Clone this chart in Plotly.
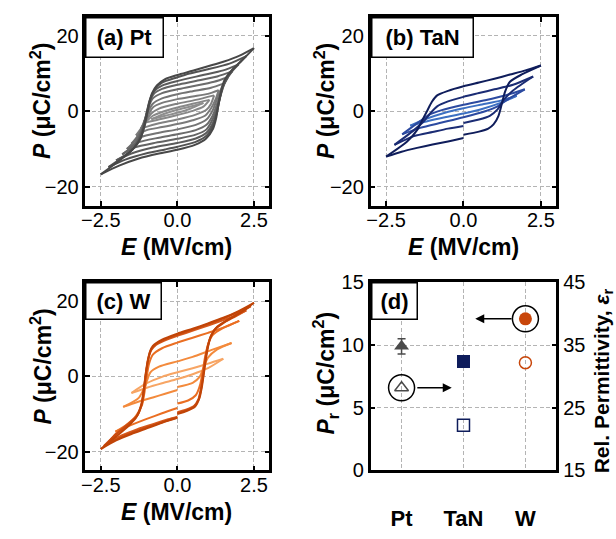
import plotly.graph_objects as go

FONT = "Liberation Sans, Arial, sans-serif"

# ---------------- (a) Pt : P-E loops, field sweep from small to large ----------------
pt1_up_E = [0.85, 0.4, 0.0, -0.4, -0.85]
pt1_up_P = [2.2, 1.2, 0.4, -0.6, -2.1]
pt1_lo_E = [-0.85, -0.4, 0.0, 0.4, 0.85]
pt1_lo_P = [-2.1, -1.2, -0.4, 0.6, 2.2]

pt2_up_E = [1.05, 0.5, 0.0, -0.5, -0.8, -1.05]
pt2_up_P = [3.0, 2.0, 1.0, -0.2, -1.2, -3.0]
pt2_lo_E = [-1.05, -0.5, 0.0, 0.5, 0.85, 1.05]
pt2_lo_P = [-3.0, -2.0, -1.0, 0.1, 1.2, 3.0]

pt3_up_E = [1.2, 0.6, 0.0, -0.6, -0.85, -1.0, -1.2]
pt3_up_P = [4.2, 3.0, 2.0, 0.7, -0.6, -2.3, -4.6]
pt3_lo_E = [-1.2, -0.6, 0.0, 0.6, 0.95, 1.1, 1.2]
pt3_lo_P = [-4.6, -3.2, -2.2, -0.9, 0.4, 2.0, 4.2]

pt4_up_E = [1.35, 1.0, 0.5, 0.0, -0.5, -0.8, -0.95, -1.1, -1.35]
pt4_up_P = [5.6, 4.6, 3.9, 3.2, 2.2, 1.0, -1.0, -3.5, -6.4]
pt4_lo_E = [-1.35, -1.0, -0.5, 0.0, 0.5, 0.9, 1.1, 1.25, 1.35]
pt4_lo_P = [-6.4, -5.0, -4.2, -3.4, -2.4, -1.2, 0.8, 3.2, 5.6]

pt5_up_E = [1.5, 1.1, 0.5, 0.0, -0.5, -0.8, -0.95, -1.1, -1.25, -1.5]
pt5_up_P = [7.3, 6.2, 5.3, 4.5, 3.4, 2.0, 0.0, -3.0, -6.0, -8.6]
pt5_lo_E = [-1.5, -1.2, -0.6, 0.0, 0.6, 0.95, 1.15, 1.3, 1.5]
pt5_lo_P = [-8.6, -6.9, -5.7, -4.8, -3.6, -2.2, 0.2, 3.4, 7.3]

pt6_up_E = [1.65, 1.2, 0.5, 0.0, -0.5, -0.8, -0.93, -1.05, -1.2, -1.4, -1.65]
pt6_up_P = [9.0, 7.8, 6.6, 5.8, 4.8, 3.4, 1.3, -2.0, -5.5, -8.0, -10.0]
pt6_lo_E = [-1.65, -1.3, -0.6, 0.0, 0.6, 0.95, 1.15, 1.3, 1.45, 1.65]
pt6_lo_P = [-10.0, -8.3, -7.0, -6.1, -5.0, -3.6, -1.2, 2.0, 6.0, 9.0]

pt7_up_E = [1.8, 1.3, 0.6, 0.0, -0.5, -0.78, -0.92, -1.03, -1.15, -1.35, -1.6, -1.8]
pt7_up_P = [10.6, 9.2, 8.0, 7.0, 5.9, 4.5, 2.0, -1.5, -5.0, -8.3, -10.2, -11.4]
pt7_lo_E = [-1.8, -1.4, -0.7, 0.0, 0.6, 0.95, 1.15, 1.3, 1.45, 1.6, 1.8]
pt7_lo_P = [-11.4, -9.6, -8.3, -7.3, -6.2, -4.8, -2.2, 1.0, 5.5, 8.5, 10.6]

pt8_up_E = [2.0, 1.5, 0.8, 0.0, -0.5, -0.75, -0.9, -1.0, -1.12, -1.3, -1.55, -2.0]
pt8_up_P = [12.4, 10.8, 9.5, 8.0, 6.8, 5.4, 3.0, -0.2, -4.3, -8.2, -10.8, -13.0]
pt8_lo_E = [-2.0, -1.5, -0.8, 0.0, 0.6, 0.95, 1.15, 1.28, 1.4, 1.55, 1.75, 2.0]
pt8_lo_P = [-13.0, -11.2, -9.6, -8.4, -7.2, -5.7, -3.3, -0.5, 3.8, 7.5, 10.2, 12.4]

pt9_up_E = [2.25, 1.7, 1.0, 0.4, 0.0, -0.5, -0.72, -0.87, -0.97, -1.07, -1.25, -1.5, -2.25]
pt9_up_P = [14.6, 12.6, 11.1, 10.0, 9.0, 7.6, 6.0, 3.5, 0.0, -4.0, -7.8, -10.4, -14.8]
pt9_lo_E = [-2.25, -1.7, -1.0, -0.4, 0.0, 0.6, 0.95, 1.15, 1.27, 1.37, 1.5, 1.75, 2.25]
pt9_lo_P = [-14.8, -12.8, -11.1, -10.1, -9.4, -8.1, -6.5, -4.0, -1.0, 3.0, 7.2, 10.5, 14.6]

pt10_up_E = [2.5, 2.05, 1.5, 1.0, 0.5, 0.0, -0.4, -0.67, -0.83, -0.92, -1.0, -1.08, -1.2, -1.47, -1.9, -2.5]
pt10_up_P = [16.7, 14.8, 13.1, 11.9, 10.7, 9.6, 8.5, 6.8, 4.7, 2.1, -0.8, -3.8, -7.2, -10.2, -13.1, -16.7]
pt10_lo_E = [-2.5, -1.9, -1.26, -0.6, 0.0, 0.57, 0.94, 1.16, 1.27, 1.34, 1.43, 1.53, 1.75, 2.07, 2.5]
pt10_lo_P = [-16.7, -14.4, -12.5, -11.2, -10.2, -8.9, -7.2, -4.7, -1.7, 1.7, 5.1, 8.1, 10.6, 13.1, 16.7]

pt_colors = ["#8e8e8e", "#888888", "#828282", "#7b7b7b", "#747474",
             "#6c6c6c", "#646464", "#5b5b5b", "#525252", "#484848"]

# ---------------- (b) TaN : P-E loops (None = restart of the sweep at E = 0) ----------------
tan1_up_E = [1.72, 1.2, 0.6, 0.0, -0.6, -1.2, -1.72]
tan1_up_P = [4.1, 2.8, 1.8, 0.8, -0.4, -2.0, -3.8]
tan1_lo_E = [-1.72, -1.2, -0.6, 0.0, 0.6, 1.2, 1.72]
tan1_lo_P = [-3.8, -2.7, -1.6, -0.6, 0.6, 2.2, 4.1]

tan2_up_E = [1.98, 1.4, 0.7, 0.0, -0.7, -1.1, -1.4, -1.98]
tan2_up_P = [5.8, 4.3, 2.9, 1.7, 0.3, -0.9, -2.6, -6.1]
tan2_lo_E = [-1.98, -1.4, -0.7, 0.0, 0.7, 1.1, 1.4, 1.98]
tan2_lo_P = [-6.1, -4.4, -3.0, -1.6, 0.0, 1.3, 3.0, 5.8]

tan3_up_E = [2.25, 1.6, 1.0, 0.5, 0.0, -0.5, -0.85, -1.1, -1.3, -1.6, -2.23]
tan3_up_P = [9.2, 7.0, 5.8, 4.8, 3.8, 2.6, 1.3, -0.8, -2.8, -5.0, -8.9]
tan3_lo_E = [-2.23, -1.6, -1.0, -0.5, 0.0, None, 0.0, 0.5, 0.85, 1.1, 1.3, 1.6, 2.25]
tan3_lo_P = [-8.9, -6.6, -5.5, -4.6, -3.9, None, -3.1, -2.2, -1.2, 0.5, 3.0, 5.5, 9.2]

tan4_up_E = [2.5, 2.0, 1.5, 1.0, 0.5, 0.0, -0.5, -0.85, -1.02, -1.18, -1.34, -1.5, -1.82, -2.5]
tan4_up_P = [12.1, 10.8, 9.7, 8.6, 7.6, 6.6, 5.4, 4.2, 2.5, 0.0, -2.5, -5.0, -8.0, -12.0]
tan4_lo_E = [-2.5, -2.0, -1.5, -1.0, -0.5, 0.0, None, 0.0, 0.5, 0.8, 0.97, 1.13, 1.23, 1.34, 1.5, 1.9, 2.5]
tan4_lo_P = [-12.0, -10.7, -9.7, -8.8, -8.0, -7.1, None, -6.2, -5.4, -4.6, -3.5, -1.2, 1.7, 5.1, 7.8, 9.8, 12.1]

tan_colors = ["#3d70c2", "#2c4aa0", "#1b2c74", "#0f1d5b"]

# ---------------- (c) W : P-E loops ----------------
w1_up_E = [1.5, 1.0, 0.5, 0.0, -0.5, -1.0, -1.5]
w1_up_P = [4.7, 3.4, 2.2, 1.1, -0.1, -1.8, -4.4]
w1_lo_E = [-1.5, -1.0, -0.5, 0.0, 0.5, 1.0, 1.5]
w1_lo_P = [-4.4, -3.0, -1.8, -0.7, 0.6, 2.2, 4.7]

w2_up_E = [1.77, 1.1, 0.5, 0.0, -0.6, -0.88, -1.04, -1.26, -1.77]
w2_up_P = [8.9, 7.0, 5.2, 4.0, 2.6, 1.1, -2.3, -5.7, -8.1]
w2_lo_E = [-1.77, -1.3, -0.8, -0.4, 0.0, None, 0.0, 0.5, 0.72, 0.85, 1.0, 1.3, 1.77]
w2_lo_P = [-8.1, -6.8, -5.6, -4.6, -3.6, None, -2.8, -1.7, -0.2, 2.2, 5.0, 7.2, 8.9]

w3_up_E = [2.02, 1.5, 1.0, 0.5, 0.0, -0.5, -0.8, -0.92, -1.0, -1.07, -1.15, -1.35, -1.65, -2.02]
w3_up_P = [14.8, 13.0, 11.6, 10.3, 9.0, 7.5, 5.8, 3.5, 0.0, -4.0, -7.5, -10.5, -12.8, -14.7]
w3_lo_E = [-2.02, -1.5, -1.0, -0.5, 0.0, None, 0.0, 0.35, 0.6, 0.75, 0.82, 0.9, 1.0, 1.15, 1.5, 2.02]
w3_lo_P = [-14.7, -12.9, -11.3, -9.8, -8.4, None, -7.2, -6.4, -5.0, -2.0, 1.0, 5.0, 8.5, 11.0, 12.9, 14.8]

w4_up_E = [2.25, 1.8, 1.3, 0.8, 0.3, 0.0, -0.4, -0.7, -0.85, -0.95, -1.02, -1.08, -1.15, -1.3, -1.6, -2.0, -2.25]
w4_up_P = [17.6, 15.9, 14.4, 13.0, 11.6, 10.8, 9.6, 8.4, 7.0, 4.5, 1.0, -3.0, -7.0, -10.3, -12.6, -15.2, -17.5]
w4_lo_E = [-2.25, -1.8, -1.3, -0.8, -0.3, 0.0, None, 0.0, 0.3, 0.55, 0.68, 0.76, 0.82, 0.88, 0.95, 1.05, 1.2, 1.5, 1.9, 2.25]
w4_lo_P = [-17.5, -15.6, -14.0, -12.7, -11.4, -10.7, None, -9.5, -8.8, -7.8, -6.2, -3.5, -0.5, 3.0, 6.5, 9.8, 12.3, 14.2, 16.0, 17.6]

w5_up_E = [2.4, 1.9, 1.4, 0.9, 0.4, 0.0, -0.4, -0.7, -0.86, -0.96, -1.03, -1.09, -1.17, -1.33, -1.65, -2.0, -2.4]
w5_up_P = [18.7, 16.8, 15.1, 13.6, 12.2, 11.1, 9.9, 8.6, 7.1, 4.5, 1.0, -3.0, -7.2, -10.6, -13.0, -15.4, -18.5]
w5_lo_E = [-2.4, -1.9, -1.4, -0.9, -0.4, 0.0, None, 0.0, 0.3, 0.55, 0.7, 0.78, 0.84, 0.9, 0.97, 1.07, 1.25, 1.6, 2.0, 2.4]
w5_lo_P = [-18.5, -16.4, -14.7, -13.3, -11.9, -10.9, None, -9.8, -9.0, -8.0, -6.0, -3.2, 0.0, 3.5, 7.0, 10.2, 12.8, 14.8, 16.7, 18.7]

w6_up_E = [2.5, 2.0, 1.5, 1.0, 0.5, 0.0, -0.5, -0.8, -0.9, -0.97, -1.04, -1.1, -1.18, -1.35, -1.6, -2.0, -2.5]
w6_up_P = [19.6, 17.4, 15.6, 14.1, 12.7, 11.4, 9.8, 8.1, 6.5, 3.8, 0.0, -4.0, -7.8, -11.0, -13.2, -16.0, -19.3]
w6_lo_E = [-2.5, -2.0, -1.5, -1.0, -0.5, 0.0, None, 0.0, 0.3, 0.58, 0.72, 0.8, 0.86, 0.92, 0.99, 1.1, 1.3, 1.7, 2.1, 2.5]
w6_lo_P = [-19.3, -17.0, -15.3, -13.8, -12.3, -11.0, None, -10.0, -9.2, -8.0, -5.8, -2.8, 0.5, 4.0, 7.5, 10.8, 13.2, 15.3, 17.2, 19.6]

w_colors = ["#f7a564", "#f38a3c", "#ea6e22", "#d6581a", "#ca4b10", "#c04407"]

# ---------------- (d) remanent polarization and permittivity ----------------
electrodes = ["Pt", "TaN", "W"]
pr_values = [9.9, 8.7, 12.1]          # uC/cm^2
pr_errors = [0.6, 0.0, 0.0]
eps_values = [28.2, 22.2, 32.2]       # relative permittivity
electrode_colors = ["#4a4a4a", "#0e1c5b", "#c8460a"]
pr_symbols = ["triangle-up", "square", "circle"]
eps_symbols = ["triangle-up-open", "square-open", "circle-open"]

# ---------------- figure ----------------
W_PX, H_PX = 616, 539


def px_x(p):
    return p / W_PX


def px_y(p):
    return 1 - p / H_PX


dom_left = [px_x(82), px_x(267)]
dom_right = [px_x(369), px_x(556)]
dom_top = [px_y(203), px_y(6)]
dom_bot = [px_y(479), px_y(283)]

fig = go.Figure()

loop_sets = [
    ("x", "y", pt_colors, [
        (pt1_up_E, pt1_up_P, pt1_lo_E, pt1_lo_P), (pt2_up_E, pt2_up_P, pt2_lo_E, pt2_lo_P),
        (pt3_up_E, pt3_up_P, pt3_lo_E, pt3_lo_P), (pt4_up_E, pt4_up_P, pt4_lo_E, pt4_lo_P),
        (pt5_up_E, pt5_up_P, pt5_lo_E, pt5_lo_P), (pt6_up_E, pt6_up_P, pt6_lo_E, pt6_lo_P),
        (pt7_up_E, pt7_up_P, pt7_lo_E, pt7_lo_P), (pt8_up_E, pt8_up_P, pt8_lo_E, pt8_lo_P),
        (pt9_up_E, pt9_up_P, pt9_lo_E, pt9_lo_P), (pt10_up_E, pt10_up_P, pt10_lo_E, pt10_lo_P)]),
    ("x2", "y2", tan_colors, [
        (tan1_up_E, tan1_up_P, tan1_lo_E, tan1_lo_P), (tan2_up_E, tan2_up_P, tan2_lo_E, tan2_lo_P),
        (tan3_up_E, tan3_up_P, tan3_lo_E, tan3_lo_P), (tan4_up_E, tan4_up_P, tan4_lo_E, tan4_lo_P)]),
    ("x3", "y3", w_colors, [
        (w1_up_E, w1_up_P, w1_lo_E, w1_lo_P), (w2_up_E, w2_up_P, w2_lo_E, w2_lo_P),
        (w3_up_E, w3_up_P, w3_lo_E, w3_lo_P), (w4_up_E, w4_up_P, w4_lo_E, w4_lo_P),
        (w5_up_E, w5_up_P, w5_lo_E, w5_lo_P), (w6_up_E, w6_up_P, w6_lo_E, w6_lo_P)]),
]

for xa, ya, colors, loops in loop_sets:
    for color, (ue, up, le, lp) in zip(colors, loops):
        for ex, py in ((le, lp), (ue, up)):
            fig.add_trace(go.Scatter(
                x=ex, y=py, xaxis=xa, yaxis=ya, mode="lines",
                line=dict(color=color, width=2, shape="spline", smoothing=0.7),
                connectgaps=False, hoverinfo="skip"))

# (d) Pr (filled, left axis) and permittivity (open, right axis)
for i, name in enumerate(electrodes):
    err = dict(type="data", array=[pr_errors[i]], visible=pr_errors[i] > 0,
               color=electrode_colors[i], thickness=1.5, width=4)
    fig.add_trace(go.Scatter(
        x=[name], y=[pr_values[i]], xaxis="x4", yaxis="y4", mode="markers",
        error_y=err,
        marker=dict(symbol=pr_symbols[i], size=13, color=electrode_colors[i],
                    line=dict(width=0))))
    fig.add_trace(go.Scatter(
        x=[name], y=[eps_values[i]], xaxis="x4", yaxis="y5", mode="markers",
        marker=dict(symbol=eps_symbols[i], size=12, color=electrode_colors[i],
                    line=dict(width=1.5, color=electrode_colors[i]))))

# circles that mark which axis each series belongs to
fig.add_trace(go.Scatter(x=[electrodes[0]], y=[eps_values[0]], xaxis="x4", yaxis="y5",
                         mode="markers",
                         marker=dict(symbol="circle-open", size=26, color="black",
                                     line=dict(width=1.5, color="black"))))
fig.add_trace(go.Scatter(x=[electrodes[2]], y=[pr_values[2]], xaxis="x4", yaxis="y4",
                         mode="markers",
                         marker=dict(symbol="circle-open", size=26, color="black",
                                     line=dict(width=1.5, color="black"))))

tick_font = dict(family=FONT, size=20, color="black")
cat_font = dict(family=FONT, size=22, color="black")
grid = dict(showgrid=True, gridcolor="#b4b4b4", gridwidth=1, griddash="4px,2.5px")
frame = dict(showline=True, linecolor="black", linewidth=2.5,
             ticklen=5, tickwidth=1.5, tickcolor="black", zeroline=False)

pe_x = dict(range=[-3, 3], tickvals=[-2.5, 0, 2.5], tickformat=".1f",
            ticklabelstandoff=-5, ticks="inside", mirror="allticks",
            tickfont=tick_font, **grid, **frame)
pe_y = dict(range=[-25, 25], tickvals=[-20, 0, 20], tickformat="d",
            ticks="inside", mirror="allticks", tickfont=tick_font, **grid, **frame)

fig.update_layout(
    width=W_PX, height=H_PX, margin=dict(l=0, r=0, t=0, b=0),
    paper_bgcolor="white", plot_bgcolor="white", showlegend=False,
    font=dict(family=FONT, color="black"),
    xaxis=dict(domain=dom_left, anchor="y", **pe_x),
    yaxis=dict(domain=dom_top, anchor="x", **pe_y),
    xaxis2=dict(domain=dom_right, anchor="y2", **pe_x),
    yaxis2=dict(domain=dom_top, anchor="x2", **pe_y),
    xaxis3=dict(domain=dom_left, anchor="y3", **pe_x),
    yaxis3=dict(domain=dom_bot, anchor="x3", **pe_y),
    xaxis4=dict(domain=dom_right, anchor="y4", type="category",
                categoryorder="array", categoryarray=electrodes, range=[-0.5, 2.5],
                tickvals=electrodes, ticktext=["<b>%s</b>" % e for e in electrodes],
                ticks="", mirror=True, ticklabelstandoff=26, tickfont=cat_font,
                **grid, **frame),
    yaxis4=dict(domain=dom_bot, anchor="x4", range=[0, 15], tickvals=[0, 5, 10, 15],
                ticks="inside", mirror="ticks", tickfont=tick_font, **grid, **frame),
    yaxis5=dict(domain=dom_bot, anchor="x4", overlaying="y4", side="right",
                range=[15, 45], tickvals=[15, 25, 35, 45], showgrid=False,
                ticks="inside", tickfont=tick_font, **frame),
)

title_font = dict(family=FONT, size=23, color="black")
e_title = "<b><i>E</i> (MV/cm)</b>"
p_title = "<b><i>P</i> (μC/cm<sup>2</sup>)</b>"
pr_title = "<b><i>P</i><sub>r</sub> (μC/cm<sup>2</sup>)</b>"
eps_title = "<b>Rel. Permittivity, <i>ε</i><sub>r</sub></b>"

titles = [
    (e_title, 174, 246, 0, 23), (e_title, 462, 246, 0, 23), (e_title, 174, 522, 0, 23),
    (p_title, 37, 94, -90, 23), (p_title, 323, 94, -90, 23), (p_title, 37, 371, -90, 23),
    (pr_title, 323, 377, -90, 23), (eps_title, 603, 386, -90, 21),
]
for text, cx, cy, ang, fs in titles:
    fig.add_annotation(text=text, x=px_x(cx), y=px_y(cy), xref="paper", yref="paper",
                       xanchor="center", yanchor="middle", textangle=ang,
                       showarrow=False, font=dict(family=FONT, size=fs, color="black"))

# panel labels
label_font = dict(family=FONT, size=22, color="black")
panel_labels = [("(a) Pt", 82, 6, 79, 41), ("(b) TaN", 369, 6, 103, 41),
                ("(c) W", 82, 283, 77, 38), ("(d)", 369, 283, 47, 38)]
for text, lx, ly, bw, bh in panel_labels:
    fig.add_annotation(text="<b>%s</b>" % text, x=px_x(lx), y=px_y(ly),
                       xref="paper", yref="paper", xanchor="left", yanchor="top",
                       showarrow=False, width=bw - 5, height=bh - 5, align="center",
                       valign="middle", bgcolor="white", bordercolor="black",
                       borderwidth=1.5, borderpad=1, font=label_font)

# arrows pointing to the axis each series uses
fig.add_annotation(x=0.81, y=eps_values[0], xref="x4", yref="y5",
                   ax=0.23, ay=eps_values[0], axref="x4", ayref="y5",
                   text="", showarrow=True, arrowhead=2, arrowsize=1.2,
                   arrowwidth=1.5, arrowcolor="black")
fig.add_annotation(x=1.19, y=pr_values[2], xref="x4", yref="y4",
                   ax=1.8, ay=pr_values[2], axref="x4", ayref="y4",
                   text="", showarrow=True, arrowhead=2, arrowsize=1.2,
                   arrowwidth=1.5, arrowcolor="black")

fig.write_html("out.html")
